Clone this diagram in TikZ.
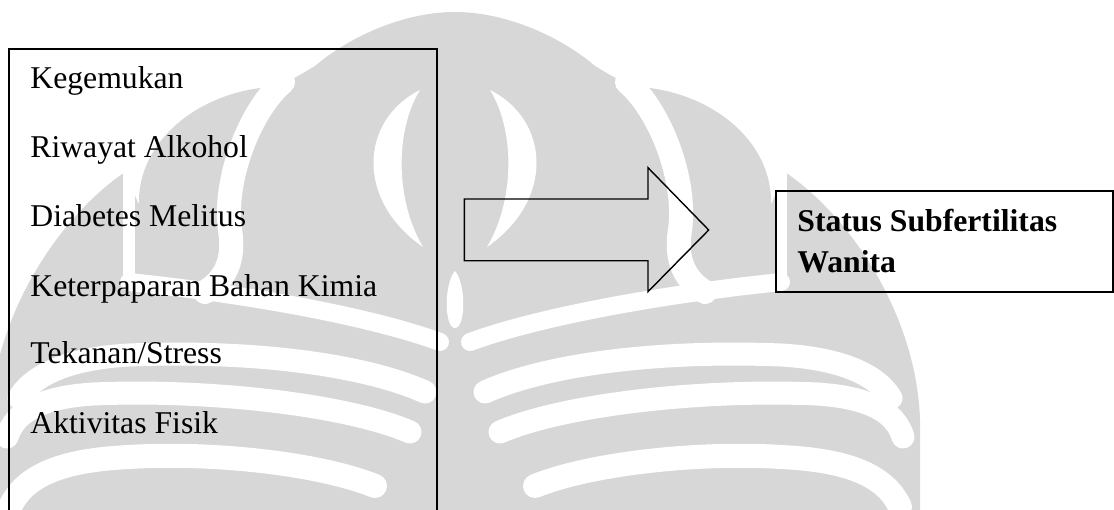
\documentclass[tikz,border=0pt]{standalone}
\usepackage{fontspec}
\setmainfont{Liberation Serif}
\definecolor{wmgray}{RGB}{215,215,215}
% one half of the background emblem, drawn right of its axis
\newcommand\wmshape{%
  \fill[wmgray] (0,12) .. controls (55,12) and (110,40) .. (140,66)
    .. controls (160,78) and (172,85) .. (185,87)
    .. controls (255,92) and (318,140) .. (316,205)
    -- (330,172) .. controls (400,220) and (462,320) .. (465,420)
    -- (465,520) -- (0,520) -- cycle;}
\newcommand\wmcuts{%
  % crescent eye
  \fill[white] (35,90) .. controls (95,120) and (100,200) .. (32,247)
    .. controls (60,200) and (60,130) .. (35,90) -- cycle;
  % drop on the axis
  \fill[white] (0,271) .. controls (11,283) and (11,328) .. (0,328) -- cycle;
  % gap round the head
  \draw[wmcut,line width=12pt] (172,82) .. controls (205,110) and (232,180) .. (225,230)
    .. controls (220,260) and (230,280) .. (250,292);
  % gap beside the lobe
  \draw[wmcut,line width=6pt] (326,160) -- (326,285);
  % band under head and lobe
  \draw[wmcut,line width=9pt] (15,342) .. controls (80,318) and (200,295) .. (326,282);
  % lower waves
  \draw[wmcut,line width=11.5pt] (30,392) .. controls (90,365) and (200,350) .. (326,355)
    .. controls (380,358) and (420,372) .. (436,398);
  \draw[wmcut,line width=11.5pt] (45,432) .. controls (110,404) and (250,389) .. (362,394)
    .. controls (410,397) and (440,410) .. (448,437);
  \draw[wmcut,line width=12pt] (80,486) .. controls (140,462) and (250,452) .. (326,457)
    .. controls (390,460) and (430,474) .. (445,507);}
\begin{document}
\begin{tikzpicture}[x=0.5pt,y=-0.5pt,
  wmcut/.style={draw=white,line cap=round},
  frame/.style={draw=black,line width=1pt},
  blockarrow/.style={draw=black,line width=0.7pt,line join=miter},
  item/.style={anchor=base west,inner sep=0pt,font=\fontsize{15.85}{19}\selectfont},
  heading/.style={anchor=base west,inner sep=0pt,font=\fontsize{15.85}{19}\selectfont\bfseries}]
\useasboundingbox (0,0) rectangle (1114,509);
\clip (0,0) rectangle (1114,509);

% background emblem
\begin{scope}[shift={(455,0)}]\wmshape\end{scope}
\begin{scope}[shift={(455,0)},xscale=-1]\wmshape\end{scope}
\begin{scope}[shift={(455,0)}]\wmcuts\end{scope}
\begin{scope}[shift={(455,0)},xscale=-1]\wmcuts\end{scope}

% list of factors
\draw[frame] (8.7,540) -- (8.7,49) -- (436.7,49) -- (436.7,540);
\node[item] (f1) at (30,88)  {Kegemukan};
\node[item] (f2) at (30,157) {Riwayat Alkohol};
\node[item] (f3) at (30,226) {Diabetes Melitus};
\node[item] (f4) at (30,296) {Keterpaparan Bahan Kimia};
\node[item] (f5) at (30,363) {Tekanan/Stress};
\node[item] (f6) at (30,433) {Aktivitas Fisik};

% block arrow
\coordinate (tailtop) at (464.3,199);
\coordinate (tailbot) at (464.3,260.7);
\coordinate (tip) at (708.7,230);
\draw[blockarrow] (tailtop) -- (648,199) -- (648,167.7) -- (tip)
  -- (648,291.7) -- (648,260.7) -- (tailbot) -- cycle;

% outcome box
\draw[frame] (775.7,191) rectangle (1112.7,292);
\node[heading] (o1) at (797,231) {Status Subfertilitas};
\node[heading] (o2) at (797,272) {Wanita};
\end{tikzpicture}
\end{document}
